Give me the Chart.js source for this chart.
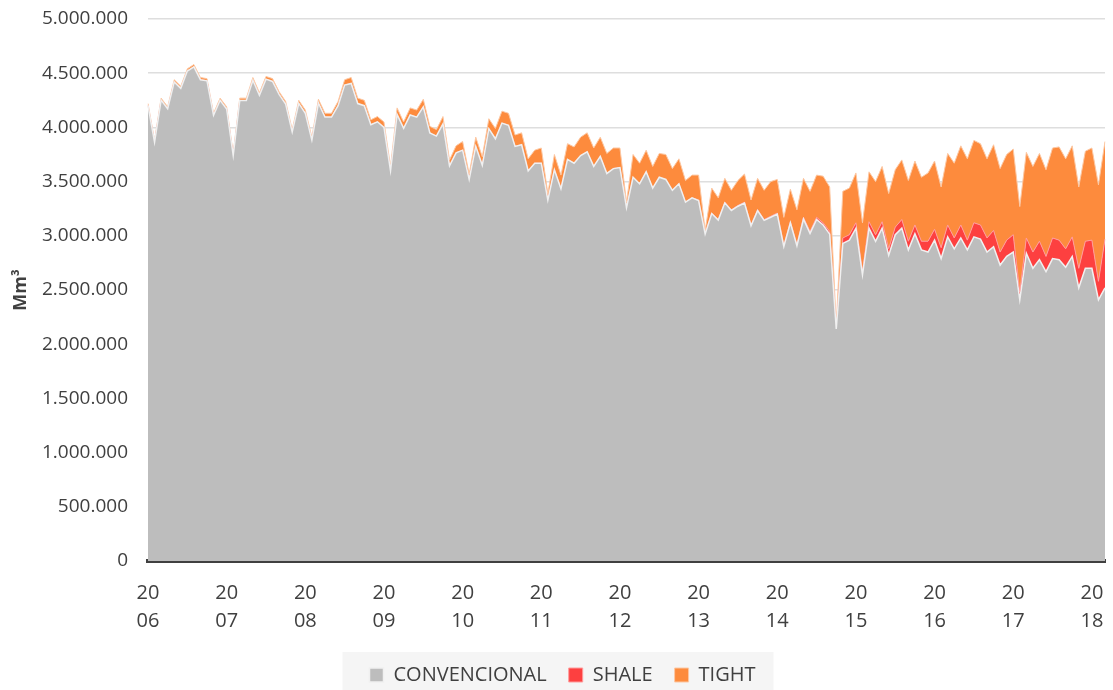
<!DOCTYPE html>
<html>
<head>
<meta charset="utf-8">
<script src="https://cdn.jsdelivr.net/npm/chart.js@4.4.1/dist/chart.umd.min.js"></script>
<style>
  html, body { margin: 0; padding: 0; background: #fff; }
</style>
</head>
<body>
<canvas id="gasChart" width="1113" height="690"></canvas>
<script>
// monthly production, Mm3, from 2006-01 to 2018-03
const years = ['2006', '2007', '2008', '2009', '2010', '2011', '2012', '2013', '2014', '2015', '2016', '2017', '2018'];
const monthsInLastYear = 3;

const convencional = [
  4202000, 3864000, 4252000, 4172000, 4420000, 4360000, 4520000, 4558000, 4440000, 4430000, 4112000, 4250000,
  4170000, 3742000, 4248000, 4248000, 4435000, 4296000, 4445000, 4424000, 4305000, 4215000, 3958000, 4222000,
  4130000, 3882000, 4225000, 4095000, 4095000, 4200000, 4390000, 4405000, 4220000, 4200000, 4025000, 4052000,
  4000000, 3600000, 4120000, 3992000, 4115000, 4095000, 4190000, 3948000, 3920000, 4032000, 3645000, 3765000,
  3790000, 3520000, 3825000, 3650000, 3988000, 3895000, 4040000, 4020000, 3825000, 3840000, 3598000, 3670000,
  3670000, 3330000, 3610000, 3435000, 3705000, 3670000, 3740000, 3775000, 3640000, 3732000, 3575000, 3620000,
  3630000, 3260000, 3540000, 3480000, 3590000, 3440000, 3540000, 3520000, 3420000, 3480000, 3310000, 3350000,
  3325000, 3017000, 3205000, 3145000, 3304000, 3234000, 3273000, 3303000, 3093000, 3232000, 3142000, 3171000,
  3200000, 2902000, 3120000, 2908000, 3155000, 3022000, 3150000, 3100000, 3015000, 2140000, 2930000, 2960000,
  3070000, 2640000, 3070000, 2950000, 3070000, 2820000, 3010000, 3070000, 2870000, 3020000, 2870000, 2850000,
  2960000, 2790000, 2990000, 2880000, 2980000, 2870000, 2990000, 2970000, 2850000, 2900000, 2730000, 2810000,
  2850000, 2410000, 2840000, 2700000, 2780000, 2670000, 2790000, 2780000, 2710000, 2810000, 2520000, 2700000,
  2700000, 2410000, 2520000
];

const shale = [
  0, 0, 0, 0, 0, 0, 0, 0, 0, 0, 0, 0,
  0, 0, 0, 0, 0, 0, 0, 0, 0, 0, 0, 0,
  0, 0, 0, 0, 0, 0, 0, 0, 0, 0, 0, 0,
  0, 0, 0, 0, 0, 0, 0, 0, 0, 0, 0, 0,
  0, 0, 0, 0, 0, 0, 0, 0, 0, 0, 0, 0,
  0, 0, 0, 0, 0, 0, 0, 0, 0, 0, 0, 0,
  0, 0, 0, 0, 0, 0, 0, 0, 0, 0, 0, 0,
  5000, 3000, 5000, 5000, 6000, 6000, 7000, 7000, 7000, 8000, 8000, 9000,
  10000, 8000, 10000, 12000, 15000, 18000, 20000, 20000, 25000, 10000, 50000, 50000,
  50000, 30000, 60000, 60000, 60000, 60000, 70000, 80000, 80000, 80000, 80000, 100000,
  100000, 100000, 110000, 100000, 120000, 90000, 130000, 130000, 130000, 150000, 120000, 150000,
  160000, 70000, 140000, 150000, 170000, 140000, 190000, 180000, 170000, 180000, 180000, 250000,
  260000, 170000, 450000
];

const tight = [
  18000, 16000, 18000, 18000, 20000, 20000, 20000, 22000, 20000, 20000, 18000, 20000,
  20000, 18000, 22000, 22000, 25000, 24000, 25000, 26000, 25000, 25000, 22000, 28000,
  30000, 28000, 35000, 35000, 35000, 40000, 50000, 55000, 50000, 50000, 45000, 48000,
  50000, 40000, 60000, 58000, 65000, 65000, 70000, 62000, 60000, 68000, 55000, 65000,
  80000, 50000, 85000, 80000, 92000, 95000, 110000, 110000, 105000, 110000, 112000, 120000,
  140000, 60000, 140000, 125000, 145000, 150000, 170000, 175000, 170000, 178000, 185000, 190000,
  180000, 50000, 210000, 190000, 200000, 200000, 220000, 230000, 200000, 230000, 200000, 210000,
  230000, 30000, 230000, 200000, 220000, 180000, 230000, 260000, 230000, 290000, 270000, 320000,
  310000, 260000, 300000, 320000, 360000, 370000, 390000, 430000, 410000, 30000, 430000, 430000,
  460000, 450000, 460000, 490000, 510000, 510000, 530000, 550000, 560000, 590000, 590000, 630000,
  630000, 560000, 660000, 690000, 730000, 750000, 760000, 750000, 730000, 790000, 770000, 790000,
  790000, 790000, 790000, 790000, 810000, 800000, 830000, 860000, 830000, 840000, 750000, 830000,
  850000, 890000, 900000
];

// one label per month: "2006-01", ...
const labels = [];
years.forEach((y, yi) => {
  const n = yi === years.length - 1 ? monthsInLastYear : 12;
  for (let m = 1; m <= n; m++) labels.push(y + '-' + String(m).padStart(2, '0'));
});

const textColor = '#404040';
const font = 'Open Sans';
const padLeft = 20;

// light grey panel behind the legend
const legendPanel = {
  id: 'legendPanel',
  beforeDraw(chart) {
    const lg = chart.legend;
    if (!lg || !lg.legendHitBoxes.length) return;
    const boxes = lg.legendHitBoxes;
    const first = boxes[0], last = boxes[boxes.length - 1];
    const cy = first.top + first.height / 2;
    const ctx = chart.ctx;
    ctx.save();
    ctx.fillStyle = '#f5f5f5';
    ctx.fillRect(first.left - 27, cy - 23, last.left + last.width + 18 - (first.left - 27), 60);
    ctx.restore();
  }
};

new Chart(document.getElementById('gasChart'), {
  type: 'line',
  data: {
    labels,
    datasets: [
      {
        label: 'CONVENCIONAL',
        data: convencional,
        backgroundColor: '#bdbdbd',
        borderColor: '#f0f0f0',
        borderWidth: 1.5,
        fill: 'origin'
      },
      {
        label: 'SHALE',
        data: shale,
        backgroundColor: '#fd4040',
        borderColor: '#ff9c9c',
        borderWidth: 1,
        fill: '-1'
      },
      {
        label: 'TIGHT',
        data: tight,
        backgroundColor: '#fd8b3d',
        borderColor: '#fcc8a4',
        borderWidth: 1,
        fill: '-1'
      }
    ]
  },
  options: {
    responsive: false,
    animation: false,
    layout: { padding: { top: 19, right: 8, left: padLeft, bottom: -5 } },
    elements: {
      point: { radius: 0 },
      line: { tension: 0 }
    },
    plugins: {
      tooltip: { enabled: false },
      legend: {
        position: 'bottom',
        labels: {
          color: textColor,
          font: { family: font, size: 20 },
          boxWidth: 14,
          boxHeight: 14,
          padding: 22
        }
      }
    },
    scales: {
      x: {
        stacked: true,
        offset: false,
        grid: { display: true, drawOnChartArea: false, drawTicks: true, tickLength: 18, tickColor: 'rgba(0,0,0,0)' },
        border: { display: true, color: '#404040', width: 4 },
        ticks: {
          autoSkip: false,
          maxRotation: 0,
          minRotation: 0,
          padding: 0,
          color: textColor,
          font: { family: font, size: 20, lineHeight: 1.4 },
          callback: function(value, index) {
            if (index % 12 !== 0) return '';
            const y = labels[index].slice(0, 4);
            return [y.slice(0, 2), y.slice(2)];
          }
        },
        afterFit: s => { s.height = 82; }
      },
      y: {
        stacked: true,
        min: 0,
        max: 5000000,
        grid: { color: '#dedede', lineWidth: 1.5, drawTicks: true, tickLength: 17, tickColor: 'rgba(0,0,0,0)' },
        border: { display: false },
        ticks: {
          stepSize: 500000,
          padding: 3,
          color: textColor,
          font: { family: font, size: 19 },
          callback: v => String(v).replace(/\B(?=(\d{3})+(?!\d))/g, '.')
        },
        title: {
          display: true,
          text: 'Mm³',
          color: textColor,
          font: { family: font, size: 18, weight: 'bold' },
          padding: { top: -10, bottom: 0 }
        },
        afterFit: s => { s.width = 148 - padLeft; }
      }
    }
  },
  plugins: [legendPanel]
});
</script>
</body>
</html>
